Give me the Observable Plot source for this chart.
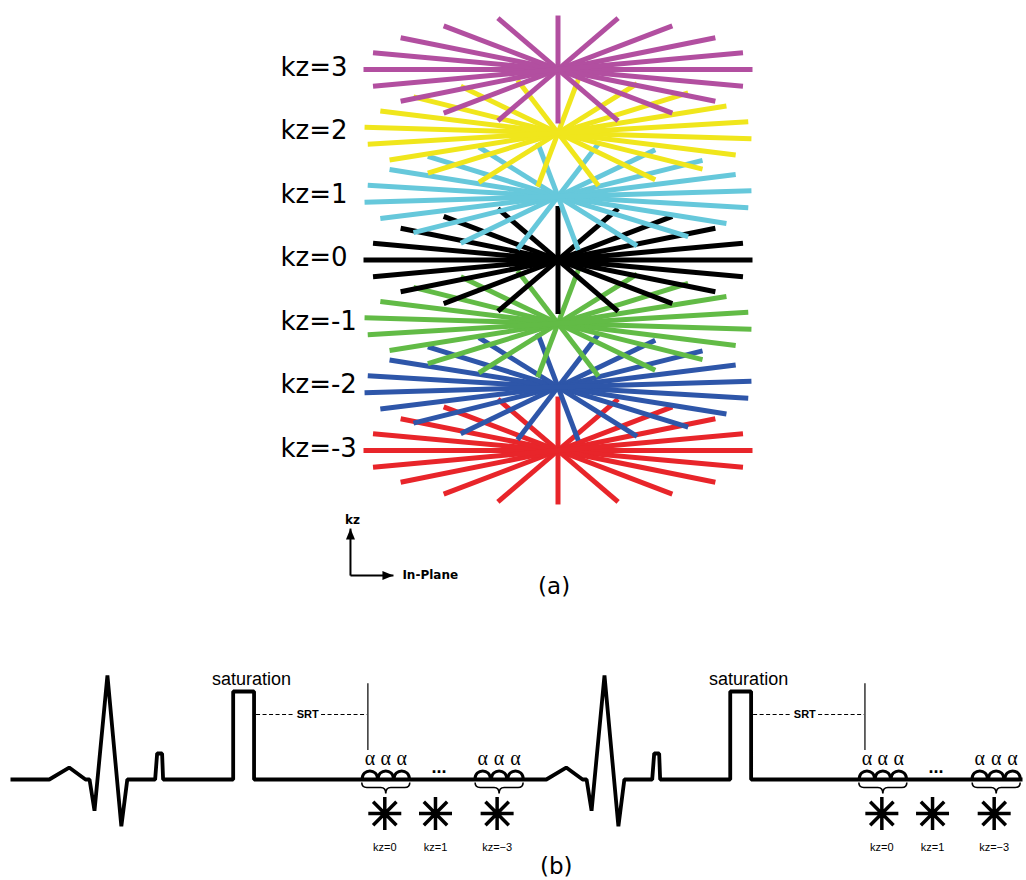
<!DOCTYPE html>
<html><head><meta charset="utf-8">
<script src="https://cdn.jsdelivr.net/npm/d3@7"></script>
<script src="https://cdn.jsdelivr.net/npm/@observablehq/plot@0.6"></script>
<style>
html,body{margin:0;padding:0;background:#fff;}
#chart{width:1026px;}
#chart svg{display:block;}
</style></head><body><div id="chart"></div>
<script>
// ---------- Panel (a): rotated stack-of-stars ----------
const kzLevels = [3, 2, 1, 0, -1, -2, -3];
const kzLabels = ["kz=3", "kz=2", "kz=1", "kz=0", "kz=-1", "kz=-2", "kz=-3"];
const kzColors = ["#b24fa0", "#f0e61c", "#66c8db", "#000000", "#62bb46", "#2e56a9", "#e8252a"];
const spokeAnglesDeg = [0, 18, 36, 54, 72, 90, 108, 126, 144, 162];
const rotationOffsetDeg = [0, 6, 12, 0, 6, 12, 0];
const compassArms = [
  {x1: -1.067, y1: -4.97, x2: -1.067, y2: -4.23},
  {x1: -1.067, y1: -4.97, x2: -0.846, y2: -4.97}
];
const compassHeads = [{x: -1.067, y: -4.23, r: 0}, {x: -0.846, y: -4.97, r: 90}];
const compassKzLabel = {x: -1.056, y: -4.16, text: "kz"};
const compassPlaneLabel = {x: -0.80, y: -5.03, text: "In-Plane"};
const panelATag = {x: -0.02, y: -5.26, text: "(a)"};

// ---------- Panel (b): ECG-triggered acquisition timeline (ms, mV) ----------
const beatStarts = [0, 1000];
const ecgTimeMs = [0, 78, 118, 151, 159, 169, 195, 223, 235, 291, 295, 305, 307, 448, 448, 490, 490];
const ecgAmp    = [0, 0, 0.115, 0, 0, -0.30, 1.0, -0.45, 0, 0, 0.25, 0.25, 0, 0, 0.846, 0.846, 0];
const ecgEndMs = 2036;
const saturationLabelMs = 485;
const srtLine = {t1: 494, t2: 717, amp: 0.625, labelMs: 598};
const readoutMarker = {t: 719, a1: 0.28, a2: 0.92};
const pulseMs = [723, 755, 787, 950, 983, 1016];
const braceMs = [755, 983];
const ellipsisMs = 862;
const partitionMs = [753, 855, 979];
const partitionLabels = ["kz=0", "kz=1", "kz=\u22123"];
const panelBTag = {t: 1098, a: -0.904, text: "(b)"};

// ----- build panel (a) spokes (drawn bottom partition first) -----
const tilt = 0.85;
const spokes = [];
for (let i = kzLevels.length - 1; i >= 0; --i) {
  const kz = kzLevels[i];
  for (const a of spokeAnglesDeg) {
    const th = (a + rotationOffsetDeg[i]) * Math.PI / 180;
    spokes.push({kz, x1: Math.cos(th), y1: kz - tilt * Math.sin(th), x2: -Math.cos(th), y2: kz + tilt * Math.sin(th)});
  }
}
const arrowHead = {draw(ctx) { ctx.moveTo(0, 0); ctx.lineTo(-4.5, 11); ctx.lineTo(4.5, 11); ctx.closePath(); }};

const plotA = Plot.plot({
  width: 1026, height: 620,
  marginLeft: 363, marginRight: 274, marginTop: 69, marginBottom: 170,
  x: {domain: [-1, 1], axis: null},
  y: {domain: [-3, 3]},
  color: {type: "ordinal", domain: kzLevels, range: kzColors},
  style: {fontFamily: "DejaVu Sans", background: "white", color: "black"},
  marks: [
    Plot.link(spokes, {x1: "x1", y1: "y1", x2: "x2", y2: "y2", stroke: "kz", strokeWidth: 5, strokeLinecap: "butt"}),
    Plot.axisY({ticks: kzLevels, tickFormat: d => kzLabels[kzLevels.indexOf(d)], tickSize: 0, tickPadding: 0,
      textAnchor: "start", dx: -83, dy: -2, fontSize: 26, label: null, fill: "black"}),
    Plot.link(compassArms, {x1: "x1", y1: "y1", x2: "x2", y2: "y2", stroke: "black", strokeWidth: 2}),
    Plot.dot(compassHeads, {x: "x", y: "y", rotate: "r", symbol: arrowHead, r: 5, fill: "black", stroke: "none"}),
    Plot.text([compassKzLabel], {x: "x", y: "y", text: "text", textAnchor: "middle", fontSize: 12,
      fontWeight: "bold", lineAnchor: "bottom", fill: "black"}),
    Plot.text([compassPlaneLabel], {x: "x", y: "y", text: "text", textAnchor: "start", fontSize: 12,
      fontWeight: "bold", lineAnchor: "bottom", fill: "black"}),
    Plot.text([panelATag], {x: "x", y: "y", text: "text", textAnchor: "middle", fontSize: 23,
      lineAnchor: "bottom", fill: "black"})
  ]
});

// ----- build panel (b) -----
const ecg = [];
for (const b of beatStarts) ecgTimeMs.forEach((t, i) => ecg.push({t: b + t, a: ecgAmp[i]}));
ecg.push({t: ecgEndMs, a: 0});
const rep = arr => beatStarts.flatMap(b => arr.map(t => b + t));
const arch = {draw(ctx) { ctx.moveTo(-7.8, 0); ctx.bezierCurveTo(-7.8, -11.5, 7.8, -11.5, 7.8, 0); }};
const brace = {draw(ctx) {
  ctx.moveTo(-24, -5); ctx.quadraticCurveTo(-24, 0, -19, 0); ctx.lineTo(-5, 0);
  ctx.quadraticCurveTo(0, 0, 0, 6); ctx.quadraticCurveTo(0, 0, 5, 0); ctx.lineTo(19, 0);
  ctx.quadraticCurveTo(24, 0, 24, -5);
}};
const asterisk = {draw(ctx) {
  const R = 16.5;
  for (const d of [0, 45, 90, 135]) {
    const r = d * Math.PI / 180;
    ctx.moveTo(R * Math.cos(r), R * Math.sin(r)); ctx.lineTo(-R * Math.cos(r), -R * Math.sin(r));
  }
}};
const partitions = beatStarts.flatMap(b => partitionMs.map((t, i) => ({t: b + t, label: partitionLabels[i]})));

const plotB = Plot.plot({
  width: 1026, height: 260,
  marginLeft: 10, marginRight: 2, marginTop: 55, marginBottom: 49,
  x: {domain: [0, 2040], axis: null},
  y: {domain: [-0.5, 1], axis: null},
  style: {fontFamily: "Liberation Sans", background: "white", color: "black"},
  marks: [
    Plot.link(beatStarts, {x1: d => d + srtLine.t1, x2: d => d + srtLine.t2, y1: srtLine.amp, y2: srtLine.amp,
      stroke: "black", strokeWidth: 1.2, strokeDasharray: "4,2.5"}),
    Plot.text(beatStarts, {x: d => d + srtLine.labelMs, y: srtLine.amp, text: d => "SRT", fontSize: 11, fontWeight: "bold",
      fill: "black", stroke: "white", strokeWidth: 6}),
    Plot.ruleX(beatStarts, {x: d => d + readoutMarker.t, y1: readoutMarker.a1, y2: readoutMarker.a2, stroke: "black", strokeWidth: 1.2}),
    Plot.line(ecg, {x: "t", y: "a", stroke: "black", strokeWidth: 3.8, strokeLinejoin: "miter", strokeLinecap: "butt"}),
    Plot.dot(rep(pulseMs), {x: d => d, y: 0, symbol: arch, r: 3, fill: "none", stroke: "black", strokeWidth: 3}),
    Plot.text(rep(pulseMs), {x: d => d, y: 0.144, text: d => "\u03B1", fontSize: 20, fontFamily: "Liberation Serif",
      lineAnchor: "bottom", fill: "black"}),
    Plot.text(beatStarts, {x: d => d + ellipsisMs, y: 0.067, text: d => "...", fontSize: 18, fontWeight: "bold",
      lineAnchor: "bottom", fill: "black"}),
    Plot.dot(rep(braceMs), {x: d => d, y: -0.077, symbol: brace, r: 3, fill: "none", stroke: "black", strokeWidth: 1.6}),
    Plot.dot(partitions, {x: "t", y: -0.327, symbol: asterisk, r: 3, fill: "none", stroke: "black", strokeWidth: 3.5}),
    Plot.text(partitions, {x: "t", y: -0.683, text: "label", fontSize: 11, lineAnchor: "bottom", fill: "black"}),
    Plot.text(beatStarts, {x: d => d + saturationLabelMs, y: 0.904, text: d => "saturation", fontSize: 18,
      lineAnchor: "bottom", fill: "black"}),
    Plot.text([panelBTag], {x: "t", y: "a", text: "text", fontSize: 23, fontFamily: "DejaVu Sans", lineAnchor: "bottom", fill: "black"})
  ]
});

const root = document.getElementById("chart");
root.appendChild(plotA);
root.appendChild(plotB);
</script>
</body></html>
